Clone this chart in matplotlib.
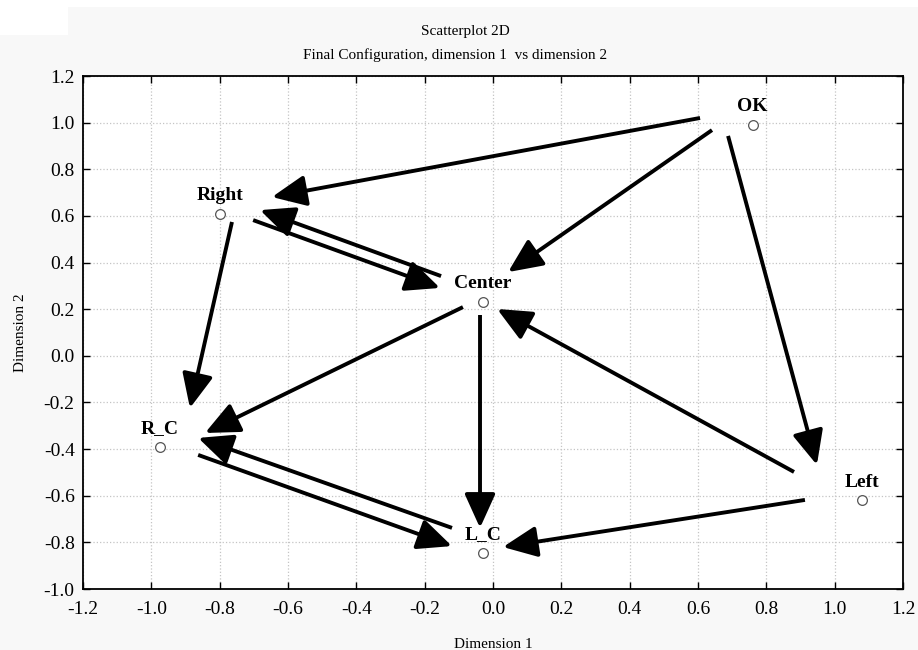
import numpy as np
import matplotlib.pyplot as plt
from matplotlib.patches import FancyArrowPatch, Rectangle

# node coordinates (final configuration)
names = ['OK', 'Right', 'Center', 'R_C', 'L_C', 'Left']
dim1 = [0.76, -0.80, -0.03, -0.975, -0.03, 1.08]
dim2 = [0.99, 0.61, 0.23, -0.39, -0.845, -0.62]

# arrows: tail and head in data units
tail_x = [0.606, 0.641, 0.688, -0.152, -0.702, -0.764, -0.088, -0.038, -0.120, -0.863, 0.881, 0.913]
tail_y = [1.020, 0.968, 0.943, 0.342, 0.582, 0.574, 0.209, 0.175, -0.738, -0.425, -0.498, -0.618]
head_x = [-0.647, 0.044, 0.948, -0.682, -0.155, -0.887, -0.843, -0.038, -0.863, -0.120, 0.012, 0.029]
head_y = [0.681, 0.359, -0.468, 0.625, 0.291, -0.224, -0.331, -0.738, -0.352, -0.816, 0.201, -0.820]

xticks = np.round(np.arange(-1.2, 1.21, 0.2), 1)
yticks = np.round(np.arange(-1.0, 1.21, 0.2), 1)

plt.rcParams['font.family'] = ['Liberation Serif', 'DejaVu Serif']

fig = plt.figure(figsize=(9.18, 6.5), dpi=100, facecolor='#f8f8f8')
# white strip / box in the top-left like the original export
fig.patches.append(Rectangle((0, 1 - 7 / 650), 1, 7 / 650, transform=fig.transFigure,
                             facecolor='white', edgecolor='none', zorder=0))
fig.patches.append(Rectangle((0, 1 - 35 / 650), 68 / 918, 35 / 650, transform=fig.transFigure,
                             facecolor='white', edgecolor='none', zorder=0))

ax = fig.add_axes([83 / 918, 1 - 589 / 650, 820 / 918, 513 / 650])
ax.set_facecolor('white')
ax.set_xlim(-1.2, 1.2)
ax.set_ylim(-1.0, 1.2)
ax.set_xticks(xticks)
ax.set_yticks(yticks)
ax.set_xticklabels(['%.1f' % (v + 0.0) for v in xticks], fontsize=14)
ax.set_yticklabels(['%.1f' % (v + 0.0) for v in yticks], fontsize=14)
ax.tick_params(direction='in', length=5, width=1, top=True, right=True, pad=6)
ax.tick_params(axis='x', pad=9)
ax.grid(True, color='#c4c4c4', linestyle=':', linewidth=0.9)
ax.set_axisbelow(True)
for s in ax.spines.values():
    s.set_linewidth(1.3)

for tx, ty, hx, hy in zip(tail_x, tail_y, head_x, head_y):
    arr = FancyArrowPatch((tx, ty), (hx, hy), arrowstyle='-|>,head_length=21,head_width=9.5',
                          mutation_scale=1, lw=2.8, color='black', shrinkA=0, shrinkB=0,
                          capstyle='butt', zorder=3)
    ax.add_patch(arr)

ax.plot(dim1, dim2, 'o', ms=7, mfc='white', mec='#555555', mew=0.9, zorder=4)
for n, x, y in zip(names, dim1, dim2):
    ax.annotate(n, (x, y), xytext=(0, 7), textcoords='offset points', ha='center', va='bottom',
                fontsize=14, fontweight='bold', zorder=5)

fig.text(465 / 918, 1 - 32 / 650, 'Scatterplot 2D', ha='center', va='center', fontsize=11)
fig.text(455 / 918, 1 - 55 / 650, 'Final Configuration, dimension 1  vs dimension 2',
         ha='center', va='center', fontsize=11)
ax.set_xlabel('Dimension 1', fontsize=11, labelpad=14)
ax.set_ylabel('Dimension 2', fontsize=11, labelpad=12)

fig.savefig('out.png', dpi=100, facecolor=fig.get_facecolor())
